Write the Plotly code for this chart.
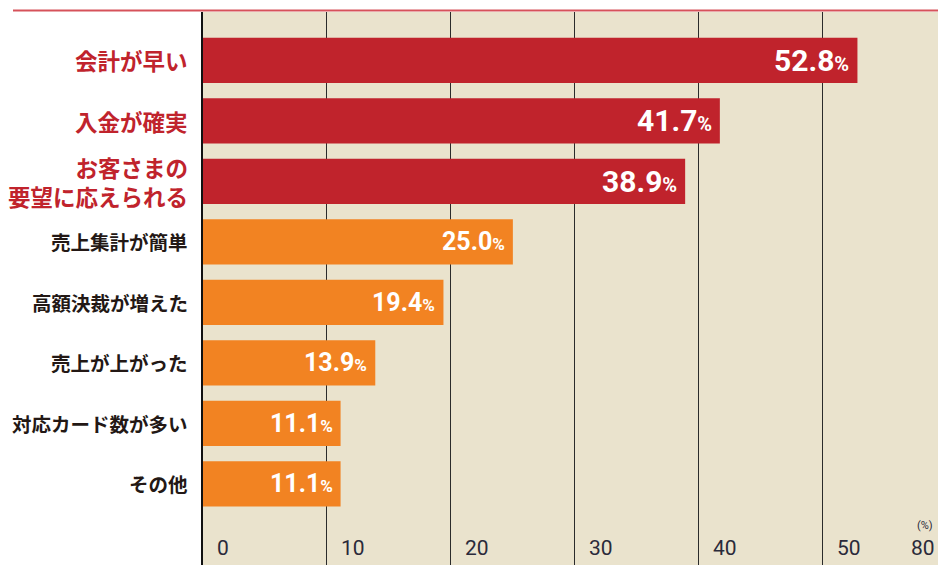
import plotly.graph_objects as go

categories = ["会計が早い", "入金が確実", "お客さまの<br>要望に応えられる", "売上集計が簡単",
              "高額決裁が増えた", "売上が上がった", "対応カード数が多い", "その他"]
values = [52.8, 41.7, 38.9, 25.0, 19.4, 13.9, 11.1, 11.1]
groups = ["top", "top", "top", "other", "other", "other", "other", "other"]
tick_values = [0, 10, 20, 30, 40, 50]
tick_labels = ["0", "10", "20", "30", "40", "50"]
end_label = "80"
unit_label = "(%)"

RED = "#C0232C"
ORANGE = "#F28322"
BEIGE = "#EAE3CD"
W, H = 938, 565
L, T = 203, 12
x_max = 59.3

colors = [RED if g == "top" else ORANGE for g in groups]

fig = go.Figure()
fig.add_trace(go.Bar(
    x=values, y=list(range(len(categories))), orientation="h",
    marker=dict(color=colors, line=dict(width=0)),
    width=0.75, hoverinfo="skip",
))

annotations = []
for i, (c, v, g) in enumerate(zip(categories, values, groups)):
    if g == "top":
        lab_font = dict(family="Noto Sans CJK JP", size=22.5, color=RED)
        val_txt = f"<b>{v:.1f}<span style='font-size:20px'>%</span></b>"
        val_font = dict(family="Roboto", size=30, color="white")
    else:
        lab_font = dict(family="Noto Sans CJK JP", size=19.5, color="#231815")
        val_txt = f"<b>{v:.1f}<span style='font-size:17px'>%</span></b>"
        val_font = dict(family="Roboto", size=25, color="white")
    annotations.append(dict(
        x=0, xref="paper", y=i, yref="y", text=f"<b>{c}</b>", showarrow=False,
        xanchor="right", yanchor="middle", xshift=-13, align="right", font=lab_font,
    ))
    annotations.append(dict(
        x=v, xref="x", y=i, yref="y", text=val_txt, showarrow=False,
        xanchor="right", yanchor="middle", xshift=-6, font=val_font,
    ))

for tv, tl in zip(tick_values, tick_labels):
    annotations.append(dict(
        x=tv, xref="x", y=0, yref="paper", text=tl, showarrow=False,
        xanchor="left", yanchor="bottom", xshift=12, yshift=3,
        font=dict(family="Roboto", size=21, color="#2a2a3a"),
    ))
annotations.append(dict(
    x=1, xref="paper", y=0, yref="paper", text=end_label, showarrow=False,
    xanchor="right", yanchor="bottom", xshift=-1, yshift=3,
    font=dict(family="Roboto", size=21, color="#2a2a3a"),
))
annotations.append(dict(
    x=1, xref="paper", y=0, yref="paper", text=unit_label, showarrow=False,
    xanchor="right", yanchor="bottom", xshift=-3, yshift=31,
    font=dict(family="Roboto", size=11, color="#2a2a3a"),
))

pw = W - L
fig.update_layout(
    width=W, height=H,
    margin=dict(l=L, r=0, t=T, b=0, pad=0),
    paper_bgcolor="white", plot_bgcolor=BEIGE,
    showlegend=False,
    xaxis=dict(range=[0, x_max], tickvals=tick_values[1:], showticklabels=False,
               showgrid=True, gridcolor="#2b2b2b", gridwidth=1.3,
               zeroline=False, showline=False, ticks="", fixedrange=True),
    yaxis=dict(range=[8.34, -0.80], showticklabels=False, showgrid=False,
               zeroline=False, showline=True, linecolor="#111111", linewidth=1.5,
               ticks="", fixedrange=True),
    annotations=annotations,
    shapes=[dict(type="line", xref="paper", yref="paper",
                 x0=(13 - L) / pw, x1=1, y0=1 + 1.5 / (H - T), y1=1 + 1.5 / (H - T),
                 line=dict(color="#D6525A", width=2))],
)

fig.write_html(
    "out.html",
    config={"displayModeBar": False},
    post_script="document.body.style.margin='0px';document.body.style.overflow='hidden';",
)
